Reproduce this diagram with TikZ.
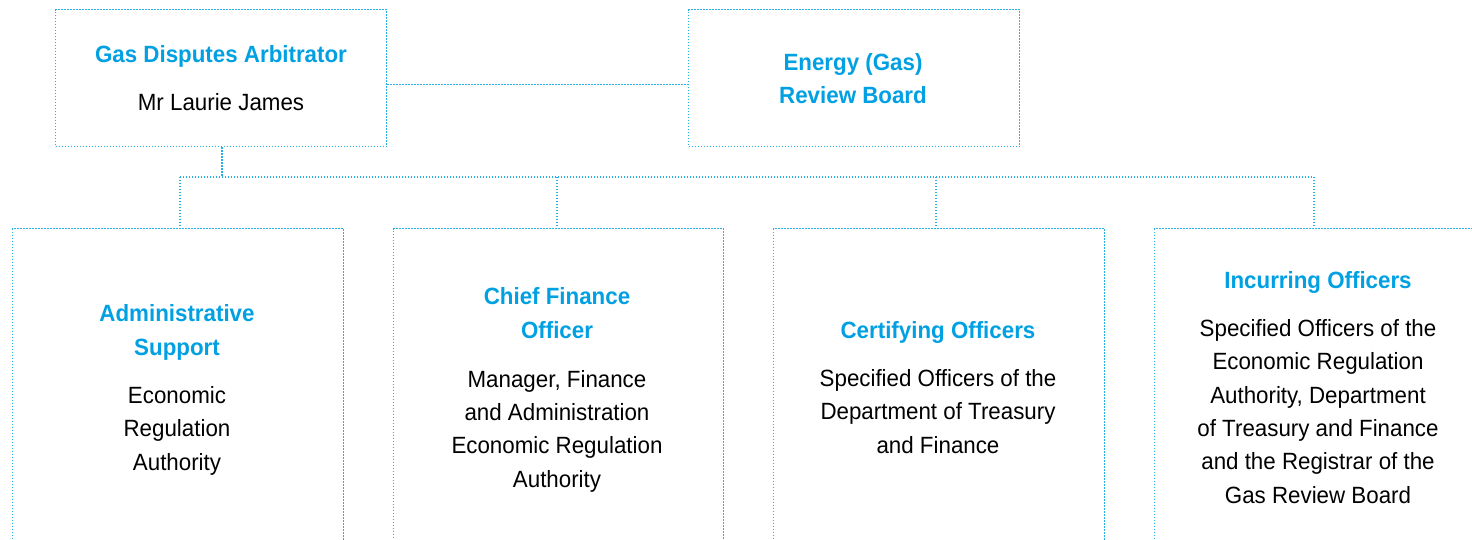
\documentclass[tikz,border=0pt]{standalone}
\usepackage{fontspec}
\setmainfont{Liberation Sans}[FakeStretch=0.95]
\definecolor{titlecyan}{RGB}{0,160,226}
\definecolor{linecyan}{RGB}{40,175,228}
\begin{document}
\begin{tikzpicture}[x=1pt,y=-1pt,
  box/.style={draw=linecyan, line width=1.3pt, dash pattern=on 1.3pt off 1.7pt, inner sep=0pt, anchor=north west},
  conn/.style={draw=linecyan, line width=1.3pt, dash pattern=on 1.3pt off 1.7pt},
  ttl/.style={font=\fontsize{23.5}{33.3}\selectfont\bfseries, text=titlecyan, align=center, anchor=base, inner sep=0pt},
  bdy/.style={font=\fontsize{23.5}{33.3}\selectfont, text=black, align=center, anchor=base, inner sep=0pt}]
\useasboundingbox (0,0) rectangle (1472,540);
\clip (0,0) rectangle (1472,540);
% top boxes
\node[box, minimum width=331pt, minimum height=137pt] (gda) at (55,9) {};
\node[box, minimum width=331pt, minimum height=137pt] (erb) at (688,9) {};
% bottom boxes (open below the page edge)
\node[box, minimum width=331pt, minimum height=400pt] (b1) at (12,228) {};
\node[box, minimum width=330pt, minimum height=400pt] (b2) at (393,228) {};
\node[box, minimum width=331pt, minimum height=400pt] (b3) at (773,228) {};
\node[box, minimum width=331pt, minimum height=400pt] (b4) at (1154,228) {};
% texts (anchor base = baseline of the last line)
\node[ttl] (gdat) at (221,63) {Gas Disputes Arbitrator};
\node[bdy] (gdab) at (221,111) {Mr Laurie James};
\node[ttl] (erbt) at (853,104) {Energy (Gas)\\Review Board};
\node[ttl] (b1t) at (177,355) {Administrative\\Support};
\node[bdy] (b1b) at (177,470) {Economic\\Regulation\\Authority};
\node[ttl] (b2t) at (557,338) {Chief Finance\\Officer};
\node[bdy] (b2b) at (557,487) {Manager, Finance\\and Administration\\Economic Regulation\\Authority};
\node[ttl] (b3t) at (938,338) {Certifying Officers};
\node[bdy] (b3b) at (938,453) {Specified Officers of the\\Department of Treasury\\and Finance};
\node[ttl] (b4t) at (1318,288) {Incurring Officers};
\node[bdy] (b4b) at (1318,503) {Specified Officers of the\\Economic Regulation\\Authority, Department\\of Treasury and Finance\\and the Registrar of the\\Gas Review Board};
% connectors
\draw[conn] ([yshift=-6.5pt]gda.east) -- ([yshift=-6.5pt]erb.west);
\coordinate (bus) at (222,177);
\coordinate (j1) at (180,177);
\coordinate (j2) at (557,177);
\coordinate (j3) at (936,177);
\coordinate (j4) at (1314,177);
\draw[conn] (gda.south -| bus) -- (bus);
\draw[conn] (j1) -- (j4);
\draw[conn] (j1) -- (j1 |- b1.north);
\draw[conn] (j2) -- (j2 |- b2.north);
\draw[conn] (j3) -- (j3 |- b3.north);
\draw[conn] (j4) -- (j4 |- b4.north);
\end{tikzpicture}
\end{document}
